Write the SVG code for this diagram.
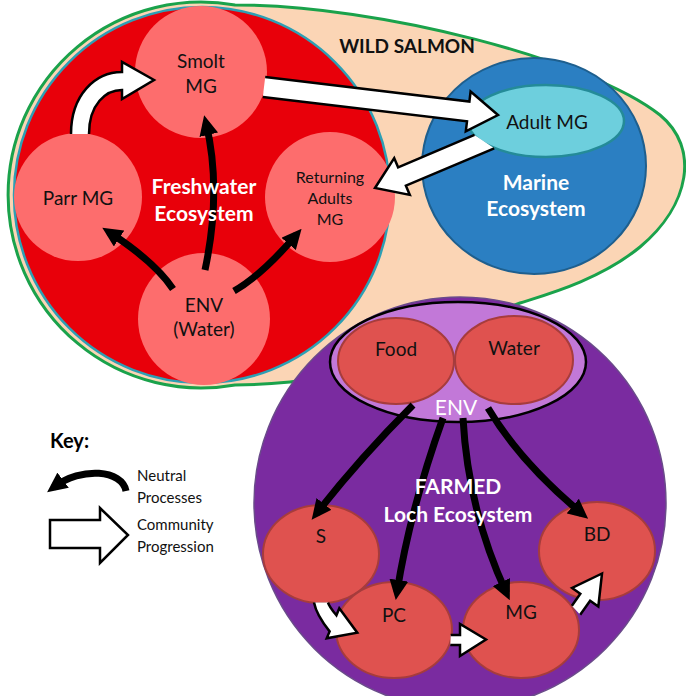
<svg xmlns="http://www.w3.org/2000/svg" width="686" height="696" viewBox="0 0 686 696">
<defs>
<marker id="ah" markerUnits="userSpaceOnUse" markerWidth="20" markerHeight="19" viewBox="0 0 20 19" refX="12" refY="9.5" orient="auto">
<path d="M0,0 L20,9.5 L0,19 Z" fill="#000"/>
</marker>
<style>
text{font-family:Lato,"Noto Sans","Liberation Sans",sans-serif;text-anchor:middle;}
.lbl{font-size:19px;fill:#111;}
.sm{font-size:16px;fill:#111;}
.big{font-size:21px;font-weight:bold;fill:#fff;}
.lf{fill:#fd6d6d;}
.rn{fill:#df524f;stroke:#a63c3c;stroke-width:2;}
.na{fill:none;stroke:#000;stroke-width:7;marker-end:url(#ah);}
.ba{fill:#fff;stroke:#000;stroke-width:2.5;stroke-linejoin:miter;}
</style>
</defs>
<rect width="686" height="696" fill="#fff"/>

<g id="wild-salmon">
<path d="M235,385 A193,193 0 1 1 235,5 C380,5 590,60 660,115 C700,148 690,205 640,247 C600,280 545,295 520,303 L450,330 C380,360 330,378 290,382 C270,384 250,385 235,385 Z" fill="#fbd5b5" stroke="#1aa24b" stroke-width="3"/>
<text x="407" y="53" style="font-size:19px;font-weight:bold;fill:#111">WILD SALMON</text>
</g>

<g id="freshwater">
<circle cx="202" cy="195" r="188" fill="#e8000a" stroke="#2d9fb4" stroke-width="2.5"/>
</g>
<g id="smolt"><circle class="lf" cx="201" cy="72" r="66"/><text class="lbl" x="201" y="68">Smolt</text><text class="lbl" x="201" y="93">MG</text></g>
<g id="parr"><circle class="lf" cx="78" cy="197" r="64"/><text class="lbl" x="78" y="205">Parr MG</text></g>
<g id="returning"><circle class="lf" cx="330" cy="197" r="65"/><text class="sm" x="330" y="183">Returning</text><text class="sm" x="330" y="204">Adults</text><text class="sm" x="330" y="225">MG</text></g>
<g id="env-water"><circle class="lf" cx="204" cy="319" r="66"/><text class="lbl" x="204" y="312">ENV</text><text class="lbl" x="204" y="336">(Water)</text></g>

<g id="marine">
<ellipse cx="534" cy="166" rx="112" ry="108" fill="#2b7fc2" stroke="#1e5f8e" stroke-width="2"/>
<text class="big" x="536" y="190">Marine</text>
<text class="big" x="536" y="216">Ecosystem</text>
</g>
<g id="adult-mg"><ellipse cx="546" cy="121" rx="78" ry="36" fill="#6dcfdd" stroke="#248b98" stroke-width="2.5"/><text class="lbl" x="547" y="129">Adult MG</text></g>

<g id="farmed">
<circle cx="460" cy="503" r="206" fill="#7a2ba0" stroke="#6a4b8a" stroke-width="1.5"/>
</g>
<g id="env-farm">
<ellipse cx="458" cy="362" rx="128" ry="60" fill="#c278d8" stroke="#000" stroke-width="2.5"/>
<text x="456" y="415" style="font-size:21px;fill:#fff">ENV</text>
</g>
<g id="food"><ellipse class="rn" cx="396" cy="361" rx="58" ry="43"/><text class="lbl" x="396" y="356">Food</text></g>
<g id="water"><ellipse class="rn" cx="514" cy="360" rx="59" ry="44"/><text class="lbl" x="514" y="355">Water</text></g>
<g id="s"><ellipse class="rn" cx="321" cy="554" rx="58" ry="49"/><text class="lbl" x="321" y="543">S</text></g>
<g id="pc"><ellipse class="rn" cx="394" cy="630" rx="58" ry="48"/><text class="lbl" x="394" y="622">PC</text></g>
<g id="mg"><ellipse class="rn" cx="521" cy="630" rx="58" ry="48"/><text class="lbl" x="521" y="619">MG</text></g>
<g id="bd"><ellipse class="rn" cx="597" cy="551" rx="58" ry="49"/><text class="lbl" x="597" y="541">BD</text></g>

<g id="connectors">
<path class="ba" d="M71,134 C71,95 95,72 122,72 L122,62 L154,80 L122,99 L122,90 C106,90 89,104 89,134"/>
<path class="ba" d="M265.2,77.1 L469.4,101.5 L470.6,91.5 L498,115 L465.8,131.3 L467,121.3 L262.8,96.9"/>
<path class="ba" d="M474.5,134.9 L398.1,167.3 L394.2,158.1 L375,188 L409.8,194.9 L405.9,185.7 L494.2,148.3"/>
<path class="na" d="M205,270 Q222,190 206,123"/>
<path class="na" d="M173,289 Q155,262 109,232"/>
<path class="na" d="M234,291 Q262,275 296.4,234.8"/>
<path class="na" d="M413,405 Q360,458 316.6,513.4"/>
<path class="na" d="M443,418 Q410,510 397,592"/>
<path class="na" d="M463,418 Q468,510 506.4,592.9"/>
<path class="na" d="M488,408 Q520,462 582,513.7"/>
<path class="ba" d="M314,602.6 C316,613 322,622 329.6,631.4 L326.7,638.3 L357.3,632.7 L339.3,608.3 L336.4,615.3 C332,610 329,606 328,602.6"/>
<path class="ba" d="M450.7,635 L460,635 L460,624 L486,639.5 L460,656 L460,645 L450.3,645"/>
<path class="ba" d="M571.9,605.7 L580.3,593.8 L572.1,588.0 L602,573.5 L598.3,606.6 L590.1,600.8 L580.2,614.7"/>
</g>

<g id="region-labels">
<text class="big" x="204" y="194">Freshwater</text>
<text class="big" x="204" y="221">Ecosystem</text>
<text class="big" x="458" y="494">FARMED</text>
<text class="big" x="458" y="522">Loch Ecosystem</text>
</g>

<g id="key">
<text x="50" y="448" style="font-size:20px;font-weight:bold;fill:#000;text-anchor:start">Key:</text>
<path class="na" d="M126,491 C122,470 82,466 53.5,487.4"/>
<path class="ba" d="M50,520 L100,520 L100,508 L128,535 L100,563 L100,548 L50,548 Z"/>
<text x="137" y="481" style="font-size:15px;fill:#111;text-anchor:start">Neutral</text>
<text x="137" y="503" style="font-size:15px;fill:#111;text-anchor:start">Processes</text>
<text x="137" y="530" style="font-size:15px;fill:#111;text-anchor:start">Community</text>
<text x="137" y="552" style="font-size:15px;fill:#111;text-anchor:start">Progression</text>
</g>
</svg>
